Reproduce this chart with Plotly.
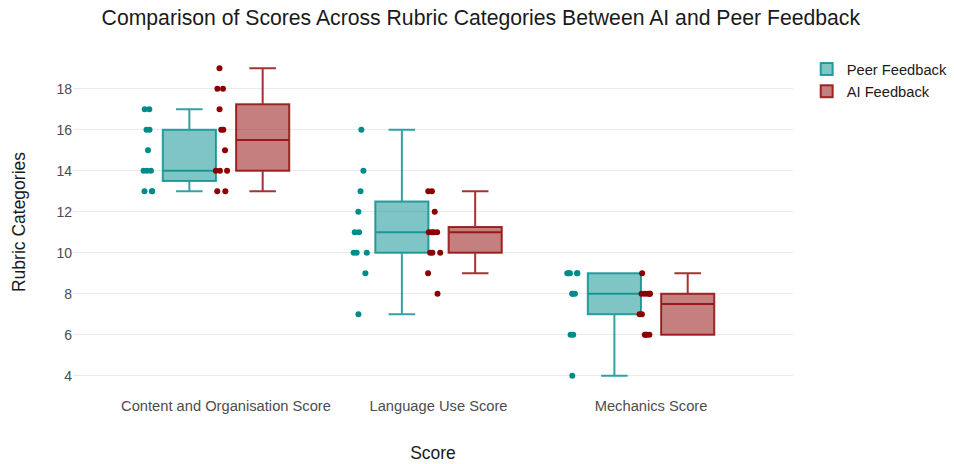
import numpy as np
import plotly.graph_objects as go

# Rubric categories on the x axis
categories = ["Content and Organisation Score", "Language Use Score", "Mechanics Score"]

# Individual scores per rubric category
peer_content = [13, 13, 13, 14, 14, 14, 15, 16, 16, 17, 17]
peer_language = [7, 9, 10, 10, 10, 11, 11, 12, 13, 14, 16]
peer_mechanics = [4, 6, 6, 8, 8, 8, 9, 9, 9, 9, 9]

ai_content = [13, 13, 14, 14, 14, 15, 16, 16, 17, 18, 18, 19]
ai_language = [8, 9, 10, 10, 10, 11, 11, 11, 11, 12, 13, 13]
ai_mechanics = [6, 6, 6, 6, 7, 7, 8, 8, 8, 8, 8, 9]

y_ticks = [4, 6, 8, 10, 12, 14, 16, 18]


def box_stats(samples):
    """Quartiles (type-7) and Tukey whisker ends for each sample."""
    out = {"q1": [], "median": [], "q3": [], "lowerfence": [], "upperfence": []}
    for s in samples:
        a = np.asarray(s, dtype=float)
        q1, med, q3 = np.percentile(a, [25, 50, 75])
        iqr = q3 - q1
        lo = a[a >= q1 - 1.5 * iqr].min()
        hi = a[a <= q3 + 1.5 * iqr].max()
        out["q1"].append(q1)
        out["median"].append(med)
        out["q3"].append(q3)
        out["lowerfence"].append(lo)
        out["upperfence"].append(hi)
    return out


def make_box(name, samples, fill, line, point):
    st = box_stats(samples)
    return go.Box(
        name=name,
        x=categories,
        y=[list(s) for s in samples],
        q1=st["q1"], median=st["median"], q3=st["q3"],
        lowerfence=st["lowerfence"], upperfence=st["upperfence"],
        boxpoints="all",
        pointpos=-1.55,
        jitter=0.28,
        fillcolor=fill,
        line=dict(color=line, width=2),
        marker=dict(color=point, size=6),
        whiskerwidth=0.5,
    )


fig = go.Figure()
fig.add_trace(make_box("Peer Feedback",
                       [peer_content, peer_language, peer_mechanics],
                       "rgba(0,139,139,0.5)", "rgba(0,139,139,0.8)", "#008B8B"))
fig.add_trace(make_box("AI Feedback",
                       [ai_content, ai_language, ai_mechanics],
                       "rgba(139,0,0,0.5)", "rgba(139,0,0,0.8)", "#8B0000"))

font_family = "Liberation Sans, Arial, sans-serif"

fig.update_layout(
    width=954, height=464,
    margin=dict(l=73, r=161, t=53, b=73, autoexpand=False),
    paper_bgcolor="white", plot_bgcolor="white",
    boxmode="group", boxgap=0.31, boxgroupgap=0.275,
    font=dict(family=font_family, color="#4D4D4D", size=14),
    title=dict(
        text="Comparison of Scores Across Rubric Categories Between AI and Peer Feedback",
        x=0.504, xanchor="center", xref="container",
        y=1 - 18 / 464, yanchor="middle", yref="container",
        font=dict(size=21.2, color="#1A1A1A", family=font_family),
    ),
    legend=dict(
        x=1.019, xanchor="left", y=1.0, yanchor="top",
        font=dict(size=14.7, color="#1A1A1A"),
        bgcolor="rgba(0,0,0,0)",
        tracegroupgap=2,
    ),
    showlegend=True,
)

fig.update_xaxes(
    range=[-0.72, 2.668],
    automargin=False,
    showgrid=False, zeroline=False, showline=False,
    ticks="", ticklabelstandoff=4,
    tickfont=dict(size=14.7, color="#4D4D4D"),
    title=dict(text="Score", font=dict(size=17.5, color="#1A1A1A"), standoff=34),
)
fig.update_yaxes(
    range=[3.25, 19.75],
    automargin=False,
    tickvals=y_ticks,
    showgrid=True, gridcolor="#EBEBEB", gridwidth=1,
    zeroline=False, showline=False,
    ticks="", tickfont=dict(size=14, color="#4D4D4D"),
    title=dict(text="Rubric Categories", font=dict(size=17.5, color="#1A1A1A"), standoff=26),
)

fig.write_html("out.html")
